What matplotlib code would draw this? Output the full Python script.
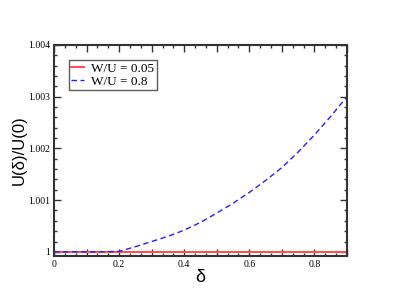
import matplotlib
matplotlib.use("Agg")
import matplotlib.pyplot as plt
from matplotlib.ticker import MultipleLocator, FuncFormatter

delta_red = [0.0, 0.9]
u_red = [1.0, 1.0]

delta_blue = [0.0, 0.05, 0.1, 0.15, 0.2, 0.25, 0.3, 0.35, 0.4, 0.45, 0.5,
              0.55, 0.6, 0.65, 0.7, 0.75, 0.8, 0.85, 0.9]
u_blue = [1.0, 1.0, 1.0, 1.0, 1.00001, 1.0001, 1.0002, 1.0003, 1.00042,
          1.00057, 1.00075, 1.00094, 1.00115, 1.00138, 1.00163, 1.00193,
          1.00226, 1.00262, 1.0030]

plt.rcParams['font.family'] = ['Liberation Serif', 'DejaVu Serif']
fig = plt.figure(figsize=(4.15, 2.94), dpi=100)
ax = fig.add_axes([54/415, 1-256/294, (347-54)/415, (256-45)/294])

ax.plot(delta_red, u_red, color='#ff5050', lw=1.5, label='W/U = 0.05')
ax.plot(delta_blue, u_blue, color='#2020ff', lw=1.0, ls=(0, (4, 2.5)), label='W/U = 0.8')

ax.set_xlim(0, 0.9)
ax.set_ylim(0.99992, 1.004)
ax.xaxis.set_major_locator(MultipleLocator(0.1))
ax.xaxis.set_minor_locator(MultipleLocator(0.1/3))
ax.yaxis.set_major_locator(MultipleLocator(0.001))
ax.yaxis.set_minor_locator(MultipleLocator(0.0002))

def xfmt(v, p):
    k = round(v * 10)
    if k % 2:
        return ''
    return '0' if k == 0 else f'{v:.1f}'

def yfmt(v, p):
    if abs(v - 1.0) < 1e-9:
        return '1'
    return f'{v:.3f}'

ax.xaxis.set_major_formatter(FuncFormatter(xfmt))
ax.yaxis.set_major_formatter(FuncFormatter(yfmt))
ax.tick_params(which='both', direction='in', top=True, right=True, labelsize=7, color='#333333', width=1)
ax.tick_params(which='major', length=5, pad=3)
ax.tick_params(which='minor', length=2.5)
for s in ax.spines.values():
    s.set_linewidth(1.5)
    s.set_color('#333333')

ax.set_xlabel('δ', fontsize=13, labelpad=0, family=['Liberation Sans', 'DejaVu Sans'])
ax.set_ylabel('U(δ)/U(0)', fontsize=12, labelpad=1, family=['Liberation Sans', 'DejaVu Sans'])

leg = ax.legend(loc='upper left', bbox_to_anchor=(0.05, 0.93), fontsize=9.5, frameon=True,
                fancybox=False, edgecolor='#333333', handlelength=1.0, handletextpad=0.5,
                borderpad=0.2, labelspacing=0.05, borderaxespad=0)
leg.get_frame().set_linewidth(1.0)

fig.savefig('out.png', dpi=100)
